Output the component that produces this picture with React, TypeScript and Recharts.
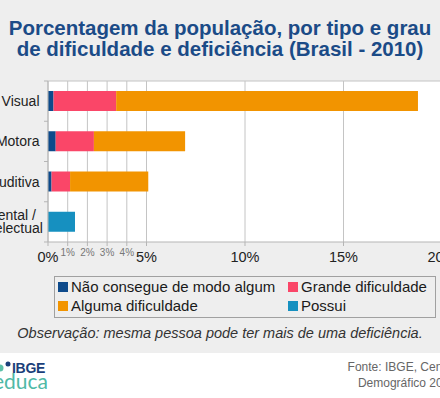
import React from "react";
import { Bar, BarChart, CartesianGrid, XAxis, YAxis } from "recharts";

const categorias = ["Visual", "Motora", "Auditiva", "Mental / Intelectual"];
const naoConsegue = [0.28, 0.39, 0.18, 0];
const grandeDificuldade = [3.18, 1.94, 0.94, 0];
const algumaDificuldade = [15.32, 4.63, 3.97, 0];
const possui = [0, 0, 0, 1.37];
const xTicks = [0, 1, 2, 3, 4, 5, 10, 15, 20];

const FONT = "'Liberation Sans', Arial, sans-serif";
const COR_NAO = "#0d4a8b";
const COR_GRANDE = "#fa4668";
const COR_ALGUMA = "#f29400";
const COR_POSSUI = "#1690c0";
const COR_EIXO = "#b5b5b5";
const Y_AXIS_W = 48;

const data = categorias.map((nome, i) => ({
  nome,
  naoConsegue: naoConsegue[i],
  grande: grandeDificuldade[i],
  alguma: algumaDificuldade[i],
  possui: possui[i],
}));

const legenda = [
  { label: "Não consegue de modo algum", color: COR_NAO },
  { label: "Grande dificuldade", color: COR_GRANDE },
  { label: "Alguma dificuldade", color: COR_ALGUMA },
  { label: "Possui", color: COR_POSSUI },
];

// eslint-disable-next-line @typescript-eslint/no-explicit-any
function XTick(props: any) {
  const { x, y, payload } = props;
  const v = payload.value as number;
  const minor = v > 0 && v < 5;
  return (
    <text
      x={x}
      y={minor ? y + 10 : y + 16}
      textAnchor="middle"
      fontFamily={FONT}
      fontSize={minor ? 10 : 14.5}
      fill={minor ? "#777" : "#222"}
    >
      {v}%
    </text>
  );
}

// tick marks sit on the band edges, labels in the band centre
// eslint-disable-next-line @typescript-eslint/no-explicit-any
function YTick(props: any) {
  const { y, payload, index } = props;
  const half = payload.offset ?? 20;
  const label = String(payload.value);
  const marks = (
    <>
      <line x1={Y_AXIS_W - 4} x2={Y_AXIS_W} y1={y - half} y2={y - half} stroke={COR_EIXO} />
      {index === categorias.length - 1 && (
        <line x1={Y_AXIS_W - 4} x2={Y_AXIS_W} y1={y + half} y2={y + half} stroke={COR_EIXO} />
      )}
    </>
  );
  if (label.includes(" / ")) {
    const [a, b] = label.split(" / ");
    return (
      <g fontFamily={FONT} fontSize={14} fill="#222" textAnchor="middle">
        {marks}
        <text x={11} y={y - 2}>{a} /</text>
        <text x={11} y={y + 11}>{b}</text>
      </g>
    );
  }
  return (
    <g>
      {marks}
      <text x={39.5} y={y + 5} textAnchor="end" fontFamily={FONT} fontSize={14} fill="#222">
        {label}
      </text>
    </g>
  );
}

export default function App() {
  return (
    <div
      style={{
        position: "absolute",
        top: 0,
        left: 0,
        width: 440,
        height: 398,
        overflow: "hidden",
        background: "#fff",
        fontFamily: FONT,
      }}
    >
      <div style={{ position: "absolute", top: 0, left: 0, width: 440, height: 353, background: "#eeeeee" }} />

      <div style={{ position: "absolute", top: 0, left: 0 }}>
        <BarChart
          width={460}
          height={282}
          data={data}
          layout="vertical"
          margin={{ top: 81, right: 18, left: 0, bottom: 0 }}
          barSize={20}
        >
          <CartesianGrid
            fill="#ffffff"
            stroke="#c4c4c4"
            horizontalPoints={[81]}
            vertical
          />
          <XAxis
            type="number"
            domain={[0, 20]}
            ticks={xTicks}
            interval={0}
            height={40}
            tickSize={4}
            tickMargin={0}
            axisLine={{ stroke: COR_EIXO }}
            tickLine={{ stroke: COR_EIXO }}
            tick={<XTick />}
          />
          <YAxis
            type="category"
            dataKey="nome"
            width={Y_AXIS_W}
            tickLine={false}
            tickSize={0}
            tickMargin={0}
            axisLine={{ stroke: COR_EIXO }}
            tick={<YTick />}
          />
          <Bar dataKey="naoConsegue" stackId="a" fill={COR_NAO} isAnimationActive={false} />
          <Bar dataKey="grande" stackId="a" fill={COR_GRANDE} isAnimationActive={false} />
          <Bar dataKey="alguma" stackId="a" fill={COR_ALGUMA} isAnimationActive={false} />
          <Bar dataKey="possui" stackId="a" fill={COR_POSSUI} isAnimationActive={false} />
        </BarChart>
      </div>

      <svg
        width={440}
        height={398}
        style={{ position: "absolute", top: 0, left: 0, pointerEvents: "none" }}
      >
        <g fontFamily={FONT} fontWeight="bold" fontSize={20.5} fill="#1b4b87" textAnchor="middle">
          <text x={220} y={34.5}>Porcentagem da população, por tipo e grau</text>
          <text x={220} y={56}>de dificuldade e deficiência (Brasil - 2010)</text>
        </g>

        <rect x={54.5} y={276.5} width={381} height={41} fill="none" stroke="#a0a0a0" />
        {legenda.map((item, i) => {
          const col = i % 2;
          const row = Math.floor(i / 2);
          const sx = col === 0 ? 58 : 288;
          const by = row === 0 ? 292 : 311;
          return (
            <g key={item.label}>
              <rect x={sx} y={by - 10} width={10} height={10} fill={item.color} />
              <text x={sx + 13} y={by} fontFamily={FONT} fontSize={15} fill="#1a1a1a">
                {item.label}
              </text>
            </g>
          );
        })}

        <text
          x={220}
          y={338}
          textAnchor="middle"
          fontFamily={FONT}
          fontStyle="italic"
          fontSize={14.5}
          fill="#333"
        >
          Observação: mesma pessoa pode ter mais de uma deficiência.
        </text>

        <circle cx={0} cy={368} r={3.5} fill="#5cc0a8" />
        <circle cx={8} cy={364} r={2.5} fill="#1b3f7a" />
        <text x={12} y={372.5} fontFamily={FONT} fontWeight="bold" fontSize={14} fill="#1b3f7a" letterSpacing={-0.3}>
          IBGE
        </text>
        <text x={48} y={389} textAnchor="end" fontFamily="Lato, sans-serif" fontSize={21} fill="#4fb9a6">
          educa
        </text>

        <g fontFamily={FONT} fontSize={12} fill="#666" textAnchor="end">
          <text x={455} y={371}>Fonte: IBGE, Censo</text>
          <text x={456} y={387}>Demográfico 2010</text>
        </g>
      </svg>
    </div>
  );
}
